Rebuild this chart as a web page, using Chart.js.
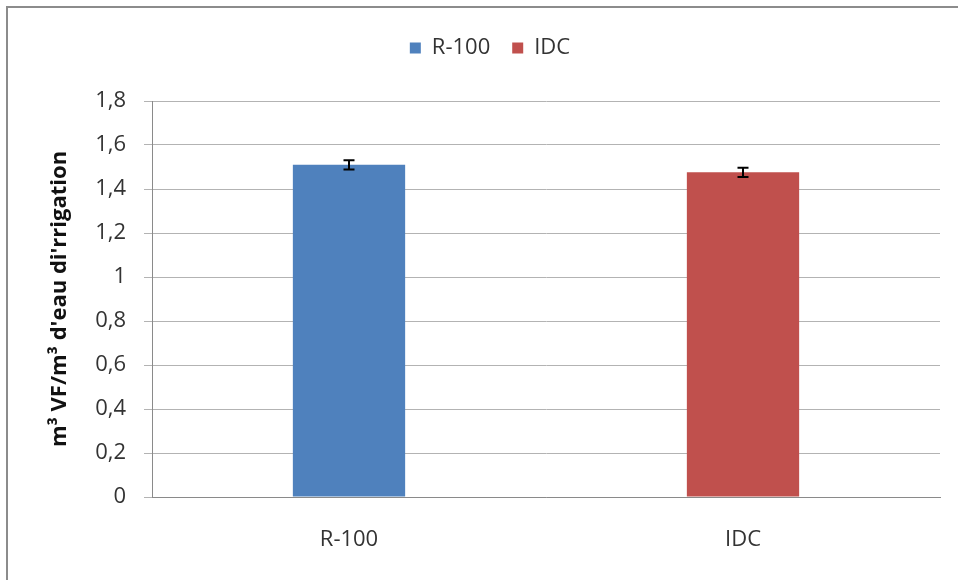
<!DOCTYPE html>
<html>
<head>
<meta charset="utf-8">
<script src="https://cdn.jsdelivr.net/npm/chart.js@4"></script>
<style>
  html, body { margin: 0; padding: 0; background: #fff; overflow: hidden; }
  #cadre { position: absolute; left: 6px; top: 6px; width: 1000px; height: 1000px; border: 2px solid #8c8c8c; }
  #boite { position: absolute; left: 0; top: 0; width: 958px; height: 580px; }
</style>
</head>
<body>
<div id="cadre"></div>
<div id="boite"><canvas id="grafico"></canvas></div>
<script>
const categories = ['R-100', 'IDC'];
const valeursR100 = [1.51, null];
const valeursIDC = [null, 1.476];
const erreursR100 = [0.021, null];
const erreursIDC = [null, 0.021];
const ticksY = [0, 0.2, 0.4, 0.6, 0.8, 1, 1.2, 1.4, 1.6, 1.8];

const police = "'Open Sans', sans-serif";

// barres d'erreur dessinées avec les échelles du graphique
const barresErreur = {
    id: 'barresErreur',
    afterDatasetsDraw(chart) {
        const ctx = chart.ctx;
        const y = chart.scales.y;
        chart.data.datasets.forEach((ds, i) => {
            const meta = chart.getDatasetMeta(i);
            meta.data.forEach((bar, j) => {
                const v = ds.data[j];
                const e = ds.erreurs[j];
                if (v == null || e == null) return;
                const yh = y.getPixelForValue(v + e);
                const yb = y.getPixelForValue(v - e);
                ctx.save();
                ctx.strokeStyle = '#000';
                ctx.lineWidth = 2;
                ctx.beginPath();
                ctx.moveTo(bar.x, yh); ctx.lineTo(bar.x, yb);
                ctx.moveTo(bar.x - 5.5, yh); ctx.lineTo(bar.x + 5.5, yh);
                ctx.moveTo(bar.x - 5.5, yb); ctx.lineTo(bar.x + 5.5, yb);
                ctx.stroke();
                ctx.restore();
            });
        });
    }
};

// hauteur fixe de la légende pour placer la zone du graphique
const hauteurLegende = {
    id: 'hauteurLegende',
    beforeLayout(chart) {
        const leg = chart.legend;
        if (!leg || leg._patche) return;
        const fit = leg.fit.bind(leg);
        leg.fit = function () {
            fit();
            this.height = 86;
        };
        leg._patche = true;
    }
};

function main() {
    const ctx = document.getElementById('grafico').getContext('2d');
    new Chart(ctx, {
        type: 'bar',
        data: {
            labels: categories,
            datasets: [
                {
                    label: 'R-100',
                    data: valeursR100,
                    erreurs: erreursR100,
                    backgroundColor: '#4F81BD'
                },
                {
                    label: 'IDC',
                    data: valeursIDC,
                    erreurs: erreursIDC,
                    backgroundColor: '#C0504D'
                }
            ]
        },
        options: {
            animation: false,
            responsive: true,
            maintainAspectRatio: false,
            skipNull: true,
            barPercentage: 0.285,
            categoryPercentage: 1,
            layout: {
                padding: { left: 40, right: 18, top: 15, bottom: 0 }
            },
            plugins: {
                legend: {
                    position: 'top',
                    labels: {
                        boxWidth: 11,
                        boxHeight: 11,
                        padding: 22,
                        color: '#333',
                        font: { family: police, size: 22 }
                    }
                },
                tooltip: { enabled: false }
            },
            scales: {
                x: {
                    afterFit(scale) { scale.height = 83; },
                    grid: { display: false },
                    border: { color: '#8a8a8a', width: 1 },
                    ticks: {
                        color: '#333',
                        padding: 22,
                        font: { family: police, size: 22 }
                    }
                },
                y: {
                    min: 0,
                    max: 1.8,
                    afterFit(scale) { scale.width = 112; },
                    afterBuildTicks(scale) {
                        scale.ticks = ticksY.map(v => ({ value: v }));
                    },
                    title: {
                        display: true,
                        text: "m³ VF/m³ d'eau di'rrigation",
                        color: '#111',
                        padding: { top: 7, bottom: 0 },
                        font: { family: police, size: 22, weight: 'bold' }
                    },
                    ticks: {
                        color: '#333',
                        padding: 18,
                        font: { family: police, size: 22 },
                        callback: v => String(Math.round(v * 10) / 10).replace('.', ',')
                    },
                    grid: {
                        color: '#b3b3b3',
                        tickLength: 8
                    },
                    border: { color: '#8a8a8a', width: 1 }
                }
            }
        },
        plugins: [barresErreur, hauteurLegende]
    });
}

window.addEventListener('DOMContentLoaded', main);
</script>
</body>
</html>
